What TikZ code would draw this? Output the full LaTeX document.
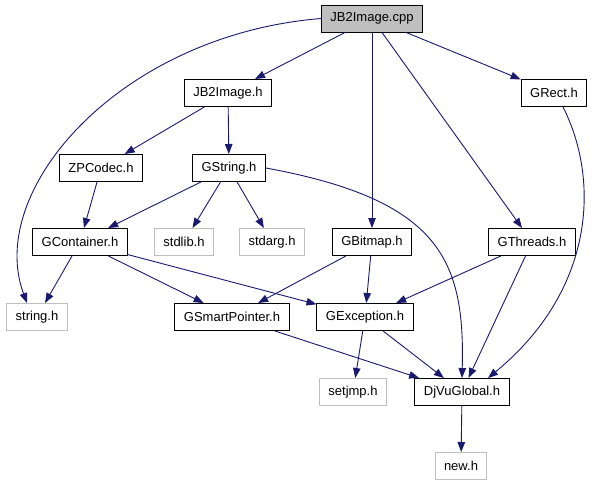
\documentclass[tikz,border=0pt]{standalone}
\usepackage{fontspec}
\setmainfont{Liberation Sans}
\usetikzlibrary{arrows.meta}
\definecolor{edgeblue}{RGB}{25,25,112}
\definecolor{sysgray}{RGB}{191,191,191}
\begin{document}
\begin{tikzpicture}[x=1pt,y=-1pt,
  hdr/.style={draw=black,line width=1pt,inner xsep=9pt,inner ysep=0pt,minimum height=27pt,font=\fontsize{13}{15.6}\selectfont},
  syshdr/.style={hdr,draw=sysgray},
  rootfile/.style={hdr,fill=sysgray},
  dep/.style={draw=edgeblue,line width=0.9pt,-{Triangle[length=10pt,width=7.5pt]}}]
\path[use as bounding box] (0,0) rectangle (597.0,485.0);
\node[rootfile] (cpp) at (372,18.5) {JB2Image.cpp};
\node[hdr] (jb2h) at (228,93) {JB2Image.h};
\node[hdr] (grect) at (554,93) {GRect.h};
\node[hdr] (zpcodec) at (101,168) {ZPCodec.h};
\node[hdr] (gstring) at (229,168) {GString.h};
\node[hdr] (gcontainer) at (80,242) {GContainer.h};
\node[syshdr] (stdlib) at (184,242) {stdlib.h};
\node[syshdr] (stdarg) at (272,242) {stdarg.h};
\node[hdr] (gbitmap) at (372,242) {GBitmap.h};
\node[hdr] (gthreads) at (532,242) {GThreads.h};
\node[syshdr] (stringh) at (37,317) {string.h};
\node[hdr] (gsmart) at (232,317) {GSmartPointer.h};
\node[hdr] (gexcept) at (365,317) {GException.h};
\node[syshdr] (setjmp) at (353,392) {setjmp.h};
\node[hdr] (djvu) at (462,392) {DjVuGlobal.h};
\node[syshdr] (newh) at (461,466) {new.h};
% edges from the source file
\draw[dep] (cpp) -- (jb2h);
\draw[dep] (cpp.west) .. controls (120,35) and (-15,190) .. (stringh.north west -| 27,0);
\draw[dep] (cpp) -- (gbitmap);
\draw[dep] (cpp) -- (gthreads);
\draw[dep] (cpp) -- (grect);
% headers
\draw[dep] (jb2h) -- (zpcodec);
\draw[dep] (jb2h) -- (gstring);
\draw[dep] (zpcodec) -- (gcontainer);
\draw[dep] (gstring) -- (gcontainer);
\draw[dep] (gstring) -- (stdlib);
\draw[dep] (gstring) -- (stdarg);
\draw[dep] (gstring.east) .. controls (440,200) and (465,260) .. (djvu.north);
\draw[dep] (grect.south) ++(9,0) .. controls (600,180) and (595,290) .. (djvu.north east -| 488,0);
\draw[dep] (gcontainer) -- (stringh);
\draw[dep] (gcontainer) -- (gsmart);
\draw[dep] (gcontainer) -- (gexcept);
\draw[dep] (gbitmap) -- (gsmart);
\draw[dep] (gbitmap) -- (gexcept);
\draw[dep] (gthreads) -- (gexcept);
\draw[dep] (gthreads) -- (djvu);
\draw[dep] (gsmart) -- (djvu);
\draw[dep] (gexcept) -- (setjmp);
\draw[dep] (gexcept) -- (djvu);
\draw[dep] (djvu) -- (newh);
\end{tikzpicture}
\end{document}
